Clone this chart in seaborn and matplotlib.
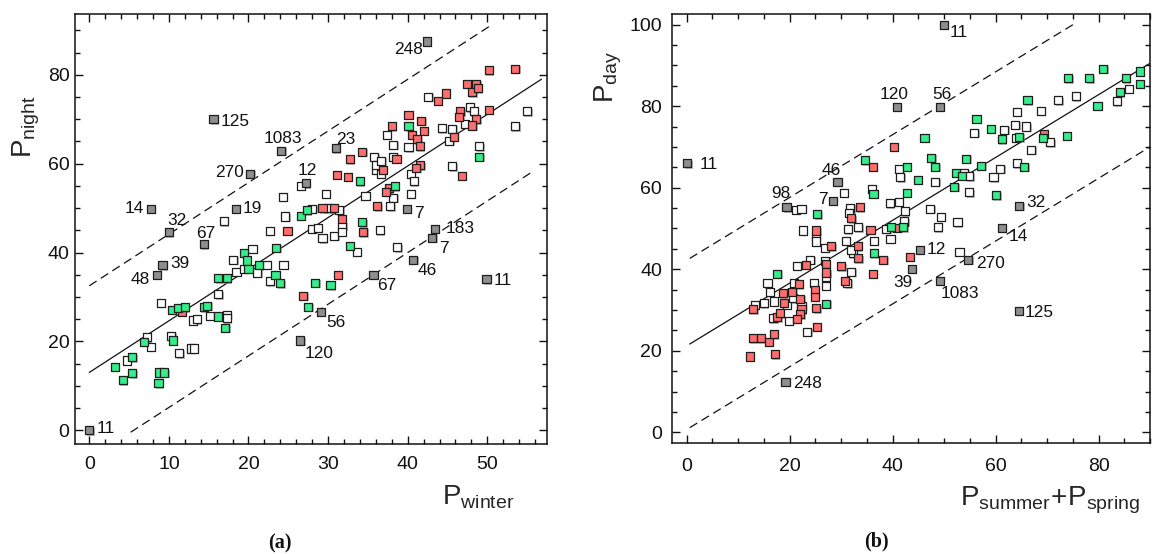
import matplotlib
matplotlib.use("Agg")
import matplotlib.pyplot as plt
import matplotlib.patheffects as pe
from matplotlib.ticker import MultipleLocator
import numpy as np
import pandas as pd
import seaborn as sns

# ---------------- panel (a): P_night vs P_winter ----------------
a_red_x = [11.6, 24.9, 31.1, 32.5, 29.3, 30.7, 31.7, 34.4, 31.2, 26.9, 50.2, 53.5, 47.5, 48.6, 48.1,
           48.8, 44.8, 43.8, 46.6, 46.5, 50.2, 48.6, 48.1, 40.1, 41.7, 38.0, 42.0, 40.5, 45.8, 41.2,
           41.5, 34.3, 32.7, 38.6, 41.6, 41.1, 46.8, 36.9, 37.6, 37.3, 36.2]
a_red_y = [26.7, 44.9, 57.5, 57.0, 50.0, 50.0, 47.5, 44.6, 35.0, 30.2, 81.0, 81.4, 78.0, 77.9, 76.1,
           77.0, 75.8, 74.2, 71.8, 70.5, 72.1, 70.0, 68.6, 71.0, 69.7, 68.4, 67.4, 66.5, 66.0, 65.5,
           63.9, 62.7, 61.0, 61.1, 59.6, 59.1, 57.3, 58.6, 54.5, 53.7, 50.4]
a_green_x = [3.2, 4.2, 5.4, 5.4, 6.9, 8.7, 8.8, 9.4, 10.5, 10.4, 11.2, 12.0, 14.4, 14.8, 16.2, 17.3,
             16.2, 17.1, 19.4, 19.8, 20.0, 21.3, 23.4, 24.0, 23.5, 26.6, 27.3, 34.0, 34.3, 32.7,
             28.4, 30.3, 27.5, 38.4, 40.1, 49.0]
a_green_y = [14.3, 11.2, 16.4, 12.8, 19.9, 10.6, 13.0, 13.0, 20.2, 27.1, 27.5, 27.7, 27.7, 28.0, 34.2,
             34.2, 25.6, 23.0, 39.9, 38.2, 36.3, 37.1, 35.0, 33.1, 41.1, 48.3, 49.5, 56.0, 46.8,
             41.5, 33.2, 32.6, 27.8, 54.9, 68.4, 61.5]
a_white_x = [4.7, 7.2, 7.7, 9.0, 10.3, 11.3, 13.0, 13.5, 12.8, 13.1, 15.2, 16.2, 17.3, 17.3, 18.1,
             18.5, 19.5, 21.1, 22.3, 22.7, 24.4, 20.5, 22.7, 16.9, 24.3, 24.6, 26.6, 29.7, 34.7,
             36.0, 28.0, 31.4, 31.8, 28.0, 28.7, 29.3, 30.8, 31.7, 33.6, 30.0, 36.5, 38.7, 42.6,
             47.8, 48.3, 55.0, 47.2, 53.5, 37.4, 44.3, 45.6, 45.2, 38.2, 40.1, 49.0, 35.8, 36.0,
             36.7, 38.2, 45.6, 36.6, 40.4, 40.8, 40.4, 38.2, 37.8]
a_white_y = [15.7, 20.9, 18.8, 28.7, 21.3, 17.3, 24.7, 25.0, 18.4, 18.4, 25.7, 30.6, 26.0, 25.2, 38.4,
             35.7, 36.3, 35.5, 37.2, 33.5, 37.2, 40.8, 44.9, 47.0, 52.5, 48.1, 55.0, 53.2, 52.8,
             58.6, 49.8, 49.5, 46.0, 45.3, 45.6, 43.2, 43.8, 44.7, 40.2, 50.0, 45.0, 41.2, 75.1,
             72.7, 71.8, 71.8, 69.0, 68.4, 66.5, 68.0, 67.9, 65.2, 64.3, 63.7, 63.9, 61.5, 59.8,
             60.7, 61.6, 59.4, 57.7, 57.7, 56.0, 53.2, 52.3, 50.4]
a_gray_x = [0.0, 8.5, 9.2, 7.7, 10.0, 14.4, 18.4, 20.2, 15.6, 24.1, 27.2, 31.0, 42.4, 39.9, 43.4,
            43.1, 40.7, 35.7, 29.1, 26.5, 49.9]
a_gray_y = [0.0, 35.0, 37.1, 49.8, 44.6, 41.9, 49.8, 57.7, 70.0, 62.9, 55.6, 63.5, 87.5, 49.8, 45.3,
            43.3, 38.4, 35.0, 26.7, 20.2, 34.0]
a_gray_labels = ["11", "48", "39", "14", "32", "67", "19", "270", "125", "1083", "12", "23", "248",
                 "7", "183", "7", "46", "67", "56", "120", "11"]
a_fit = (13.0, 1.162)          # intercept, slope
a_band = 19.5
a_fit_range = (0.0, 56.8)
a_upper_range = (0.0, 50.3)
a_lower_range = (5.2, 55.5)

# ---------------- panel (b): P_day vs P_summer+P_spring ----------------
b_red_x = [12.3, 12.8, 14.4, 16.0, 16.9, 17.1, 12.9, 17.6, 18.1, 18.7, 18.9, 20.5, 21.8, 22.1, 22.3,
           22.1, 21.4, 23.1, 24.9, 24.9, 25.2, 25.3, 27.0, 27.1, 30.0, 30.8, 33.3, 36.2, 33.6, 32.0,
           25.2, 28.1, 35.7, 40.9, 33.2, 38.2, 36.2, 43.3, 40.2, 69.4]
b_red_y = [18.6, 23.1, 23.1, 22.2, 24.1, 19.2, 30.2, 28.2, 29.2, 34.1, 31.8, 34.5, 36.3, 32.7, 30.2,
           29.0, 27.8, 41.1, 34.8, 33.3, 30.4, 25.9, 41.3, 39.2, 40.7, 37.2, 42.7, 65.1, 55.2, 52.5,
           49.5, 45.6, 49.7, 50.1, 45.6, 42.3, 38.9, 43.0, 70.0, 73.2]
b_green_x = [17.6, 27.1, 34.6, 42.8, 44.9, 47.5, 48.3, 52.4, 52.0, 36.3, 42.8, 25.4, 39.7, 42.1,
             36.4, 46.2, 80.9, 74.1, 78.2, 85.3, 88.0, 88.0, 84.1, 79.8, 66.2, 56.3, 59.1, 61.2,
             64.6, 69.2, 73.8, 54.3, 57.2, 65.6, 53.5, 60.1]
b_green_y = [38.9, 31.5, 66.7, 65.1, 61.9, 67.3, 65.1, 63.7, 60.2, 58.5, 58.8, 53.5, 50.3, 50.3,
             43.9, 72.2, 89.1, 86.8, 86.8, 86.8, 88.5, 85.5, 83.4, 80.1, 81.4, 76.9, 74.4, 71.9,
             72.4, 72.2, 72.7, 67.1, 65.4, 65.1, 62.9, 58.1]
b_white_x = [13.2, 15.0, 15.7, 16.1, 16.9, 16.8, 19.5, 19.8, 20.8, 21.4, 20.7, 22.3, 23.4, 24.7,
             26.8, 27.0, 27.0, 31.2, 32.0, 32.3, 41.2, 41.5, 48.3, 30.5, 36.0, 39.5, 41.2, 42.4,
             42.3, 47.3, 49.4, 48.8, 52.6, 53.0, 21.2, 22.3, 31.8, 31.5, 33.3, 31.3, 22.6, 25.1,
             25.1, 26.8, 30.9, 38.8, 39.6, 36.4, 32.0, 24.0, 85.9, 83.6, 75.6, 72.2, 68.8, 64.1,
             55.9, 61.7, 63.8, 66.0, 64.0, 70.6, 66.9, 60.9, 59.6, 64.1, 53.9, 54.9, 54.9]
b_white_y = [31.3, 31.7, 36.6, 34.5, 32.1, 28.0, 31.3, 27.4, 36.6, 40.8, 32.9, 31.0, 24.7, 36.6,
             42.1, 38.1, 35.9, 36.6, 39.4, 43.9, 64.6, 62.6, 61.5, 58.8, 59.7, 56.2, 56.6, 54.2,
             51.7, 54.8, 52.9, 50.3, 51.5, 44.3, 54.6, 54.8, 55.0, 53.9, 50.3, 49.8, 49.5, 47.9,
             46.8, 45.3, 47.0, 49.9, 47.5, 47.0, 44.8, 42.3, 84.3, 81.2, 82.4, 81.4, 78.9, 78.6,
             73.4, 74.2, 75.4, 75.0, 72.2, 71.1, 69.3, 64.6, 62.6, 66.0, 63.6, 62.8, 58.9]
b_gray_x = [0.1, 19.4, 28.4, 29.3, 40.8, 49.2, 49.9, 64.6, 61.2, 45.3, 54.7, 43.7, 49.2, 64.5, 19.2]
b_gray_y = [66.0, 55.2, 56.8, 61.5, 79.8, 79.8, 100.0, 55.6, 50.1, 44.8, 42.3, 40.1, 37.2, 29.8, 12.4]
b_gray_labels = ["11", "98", "7", "46", "120", "56", "11", "32", "14", "12", "270", "39", "1083",
                 "125", "248"]
b_fit = (21.2, 0.77)
b_band_up = 21.0
b_band_lo = 20.5
b_fit_range = (0.6, 90.3)
b_upper_range = (0.6, 75.6)
b_lower_range = (0.6, 90.3)

# label offsets in points (dx, dy, ha) -- styling only
a_label_pos = [(5.5, 1.5, "left"), (-4.8, -3.1, "right"), (5.3, 1.2, "left"), (-4.8, 0.7, "right"),
               (-1.2, 8.4, "left"), (1.4, 7.9, "center"), (5.3, 0, "left"), (-4.8, 1.2, "right"),
               (5.3, -1.7, "left"), (1.1, 9.1, "center"), (0.9, 8.9, "center"), (0, 6.5, "left"),
               (-2.4, -6.0, "right"), (5.5, -2.9, "left"), (7.7, 0, "left"), (4.8, -7.4, "left"),
               (3.4, -7.7, "left"), (2.4, -7.9, "left"), (3.6, -7.9, "left"), (2.9, -9.6, "left"),
               (5.3, -1.0, "left")]
b_label_pos = [(8.6, -0.7, "left"), (-4.0, 9.6, "center"), (-3.6, 1.2, "right"), (-4.3, 7.9, "center"),
               (-1.8, 8.9, "center"), (1.1, 8.9, "center"), (4.1, -6.0, "left"), (4.8, 1.9, "left"),
               (4.8, -6.0, "left"), (4.8, 0, "left"), (5.5, -2.9, "left"), (0.7, -9.6, "right"),
               (0.3, -9.1, "left"), (4.6, -1.2, "left"), (5.5, -1.2, "left")]

PALETTE = {"white": "#FFFFFF", "red": "#FF6E6E", "green": "#33EE8A", "gray": "#8E8E8E"}
EDGE = "#1E1E1E"

sns.set_theme(style="ticks")
plt.rcParams.update({
    "font.family": ["Liberation Sans", "DejaVu Sans"],
    "mathtext.fontset": "custom",
    "mathtext.rm": "Liberation Sans",
    "mathtext.it": "Liberation Sans:italic",
    "mathtext.bf": "Liberation Sans:bold",
    "axes.edgecolor": "#111111",
    "axes.linewidth": 1.1,
    "xtick.color": "#111111",
    "ytick.color": "#111111",
    "text.color": "#111111",
})


def build_frame(groups):
    frames = []
    for name, xs, ys in groups:
        frames.append(pd.DataFrame({"x": xs, "y": ys, "group": name}))
    return pd.concat(frames, ignore_index=True)


def draw_points(ax, df):
    sns.scatterplot(data=df, x="x", y="y", hue="group", palette=PALETTE,
                    hue_order=["white", "red", "green", "gray"], marker="s", s=34,
                    edgecolor=EDGE, linewidth=0.9, legend=False, ax=ax, zorder=3)
    ax.collections[-1].set_path_effects([
        pe.SimplePatchShadow(offset=(1.0, -1.0), shadow_rgbFace=(0.55, 0.55, 0.55), alpha=0.6),
        pe.Normal(),
    ])


def draw_fit(ax, fit, up, lo, fit_rng, up_rng, lo_rng):
    b0, b1 = fit
    xs = np.array(fit_rng)
    ax.plot(xs, b0 + b1 * xs, color="#111111", lw=0.9, zorder=2)
    xs = np.array(up_rng)
    ax.plot(xs, b0 + b1 * xs + up, color="#111111", lw=0.9, dashes=(7, 4), zorder=2)
    xs = np.array(lo_rng)
    ax.plot(xs, b0 + b1 * xs - lo, color="#111111", lw=0.9, dashes=(7, 4), zorder=2)


def annotate(ax, xs, ys, labels, pos):
    for x, y, lab, (dx, dy, ha) in zip(xs, ys, labels, pos):
        ax.annotate(lab, (x, y), xytext=(dx, dy), textcoords="offset points",
                    ha=ha, va="center", fontsize=12.4, zorder=4)


def style_axes(ax):
    ax.tick_params(which="both", direction="in", bottom=True, left=True, top=True, right=True,
                   labelsize=14, width=1.0, color="#111111")
    ax.tick_params(which="major", length=6)
    ax.tick_params(which="minor", length=3.5)
    for sp in ax.spines.values():
        sp.set_visible(True)
        sp.set_linewidth(1.1)
    ax.grid(False)


fig = plt.figure(figsize=(11.53, 5.54), dpi=100)
fig.patch.set_facecolor("white")

# panel (a)
ax1 = fig.add_axes([0.0650, 0.1986, 0.4094, 0.7762])
df_a = build_frame([("white", a_white_x, a_white_y), ("red", a_red_x, a_red_y),
                    ("green", a_green_x, a_green_y), ("gray", a_gray_x, a_gray_y)])
draw_fit(ax1, a_fit, a_band, a_band, a_fit_range, a_upper_range, a_lower_range)
draw_points(ax1, df_a)
annotate(ax1, a_gray_x, a_gray_y, a_gray_labels, a_label_pos)
ax1.set_xlim(-1.8, 57.5)
ax1.set_ylim(-3.1, 93.7)
ax1.xaxis.set_major_locator(MultipleLocator(10))
ax1.xaxis.set_minor_locator(MultipleLocator(2))
ax1.yaxis.set_major_locator(MultipleLocator(20))
ax1.yaxis.set_minor_locator(MultipleLocator(5))
style_axes(ax1)
ax1.tick_params(axis="x", pad=9)
ax1.tick_params(axis="y", pad=4)
ax1.set_xlabel(r"$\mathrm{P}_{\mathrm{winter}}$", fontsize=20)
ax1.set_ylabel(r"$\mathrm{P}_{\mathrm{night}}$", fontsize=20)
ax1.xaxis.set_label_coords(0.854, -0.092)
ax1.yaxis.set_label_coords(-0.07, 0.737)

# panel (b)
ax2 = fig.add_axes([0.5826, 0.2004, 0.4148, 0.7744])
df_b = build_frame([("white", b_white_x, b_white_y), ("red", b_red_x, b_red_y),
                    ("green", b_green_x, b_green_y), ("gray", b_gray_x, b_gray_y)])
draw_fit(ax2, b_fit, b_band_up, b_band_lo, b_fit_range, b_upper_range, b_lower_range)
draw_points(ax2, df_b)
annotate(ax2, b_gray_x, b_gray_y, b_gray_labels, b_label_pos)
ax2.set_xlim(-2.9, 90.0)
ax2.set_ylim(-2.6, 102.6)
ax2.xaxis.set_major_locator(MultipleLocator(20))
ax2.xaxis.set_minor_locator(MultipleLocator(5))
ax2.yaxis.set_major_locator(MultipleLocator(20))
ax2.yaxis.set_minor_locator(MultipleLocator(5))
style_axes(ax2)
ax2.tick_params(axis="x", pad=11)
ax2.tick_params(axis="y", pad=7)
ax2.set_xlabel(r"$\mathrm{P}_{\mathrm{summer}}\!+\!\mathrm{P}_{\mathrm{spring}}$", fontsize=20)
ax2.set_ylabel(r"$\mathrm{P}_{\mathrm{day}}$", fontsize=20)
ax2.xaxis.set_label_coords(0.791, -0.098)
ax2.yaxis.set_label_coords(-0.10, 0.853)

fig.text(280 / 1153, 1 - 543 / 554, "(a)", ha="center", va="center", fontsize=14.5,
         fontweight="bold", family=["Liberation Serif", "DejaVu Serif"])
fig.text(876 / 1153, 1 - 541 / 554, "(b)", ha="center", va="center", fontsize=14.5,
         fontweight="bold", family=["Liberation Serif", "DejaVu Serif"])

fig.savefig("out.png", dpi=100)
